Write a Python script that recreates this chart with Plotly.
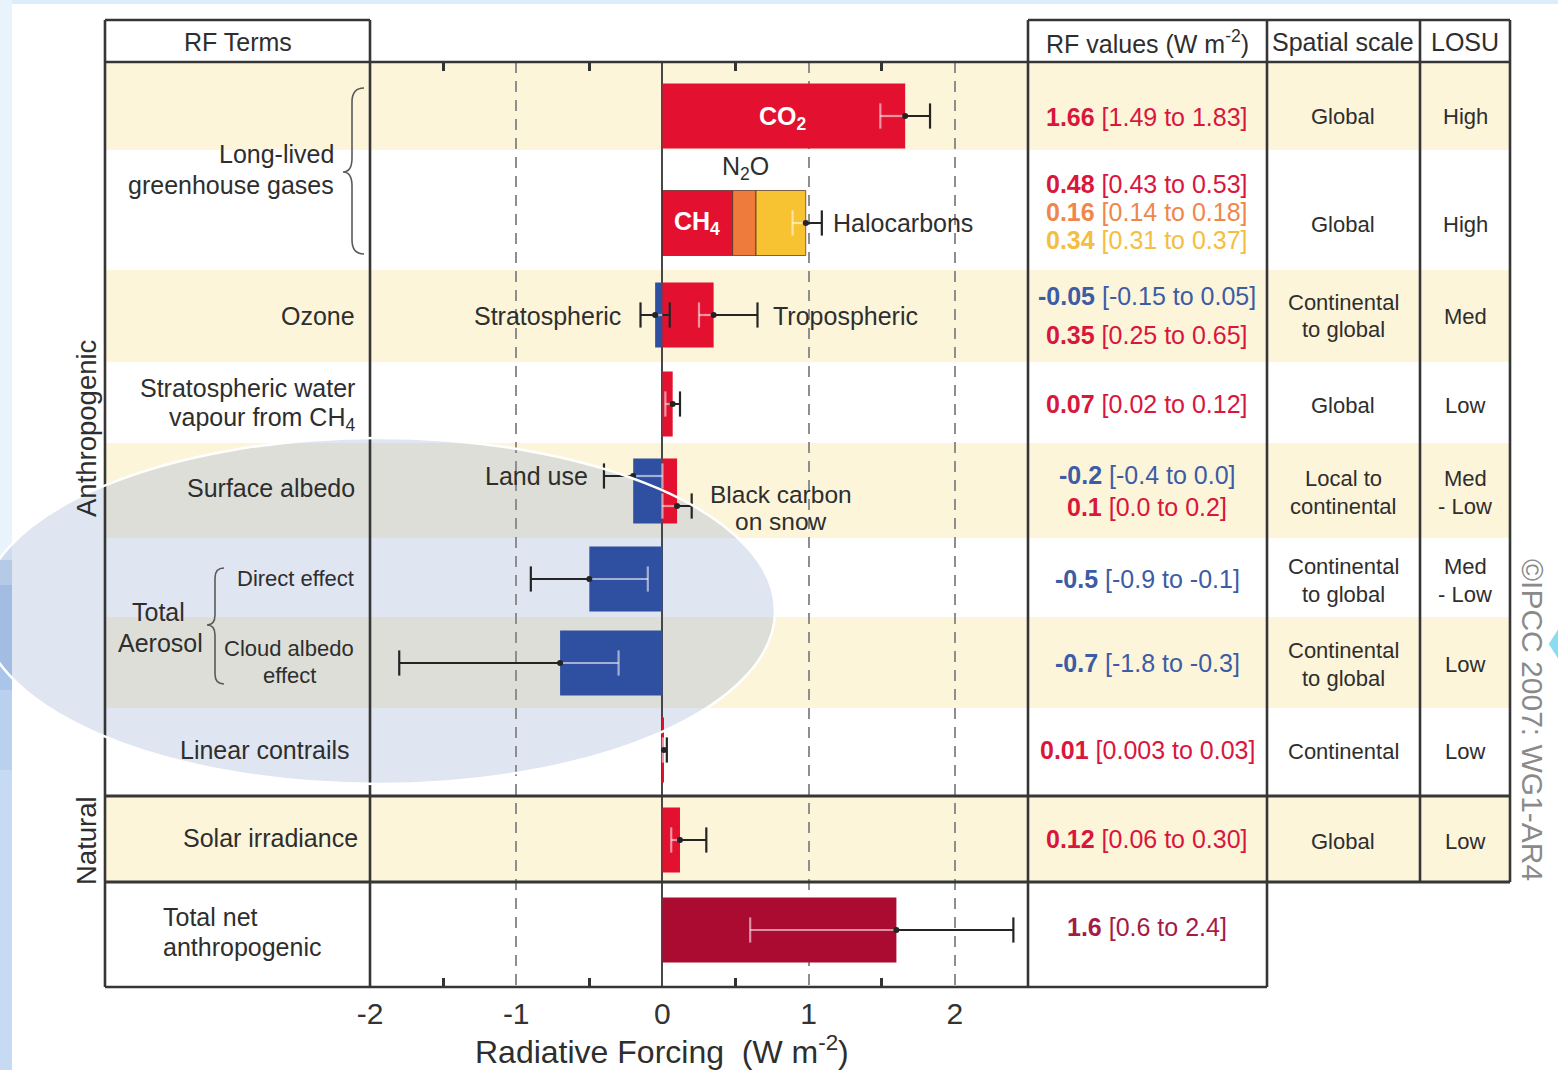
import plotly.graph_objects as go

W, H = 1558, 1070
FONT = "Liberation Sans, Arial, sans-serif"
TXT = "#2e2e2e"

# ---------------- radiative forcing terms (W m-2) ----------------
terms = ["CO2", "CH4", "N2O", "Halocarbons", "Stratospheric ozone", "Tropospheric ozone",
         "Stratospheric water vapour", "Land use", "Black carbon on snow",
         "Aerosol direct effect", "Cloud albedo effect", "Linear contrails",
         "Solar irradiance", "Total net anthropogenic"]
rf_best = ["1.66", "0.48", "0.16", "0.34", "-0.05", "0.35", "0.07", "-0.2", "0.1",
           "-0.5", "-0.7", "0.01", "0.12", "1.6"]
rf_low = ["1.49", "0.43", "0.14", "0.31", "-0.15", "0.25", "0.02", "-0.4", "0.0",
          "-0.9", "-1.8", "0.003", "0.06", "0.6"]
rf_high = ["1.83", "0.53", "0.18", "0.37", "0.05", "0.65", "0.12", "0.0", "0.2",
           "-0.1", "-0.3", "0.03", "0.30", "2.4"]
# combined uncertainty of the CH4 + N2O + halocarbon stack
llghg_low, llghg_high = 0.89, 1.09

spatial_scale = [["Global"], ["Global"], ["Continental", "to global"], ["Global"],
                 ["Local to", "continental"], ["Continental", "to global"],
                 ["Continental", "to global"], ["Continental"], ["Global"]]
losu = [["High"], ["High"], ["Med"], ["Low"], ["Med", "- Low"], ["Med", "- Low"],
        ["Low"], ["Low"], ["Low"]]

axis_tick_vals = [-2, -1, 0, 1, 2]
axis_tick_text = ["-2", "-1", "0", "1", "2"]
axis_minor_ticks = [-1.5, -0.5, 0.5, 1.5]
X_RANGE = [-2, 2.5]

# ---------------- layout of the table (pixel positions) ----------------
ROW_EDGES = [62, 150, 270, 362, 443, 538, 617, 708, 796, 882, 987]
ROW_CREAM = [True, False, True, False, True, False, True, False, True, False]
ROW_Y = [116, 223, 315, 404, 491, 579, 663, 750, 840, 930]
term_row = [0, 1, 1, 1, 2, 2, 3, 4, 4, 5, 6, 7, 8, 9]
err_offset = [0, 0, 0, 0, 0, 0, 0, -15, 15, 0, 0, 0, 0, 0]
value_text_y = [117, 184, 212, 240, 296, 335, 404, 475, 507, 579, 663, 750, 839, 927]
BAR_W = 65

RED, BLUE, ORANGE, YELLOW, DARKRED = "#e3112f", "#2f50a0", "#ee7b3b", "#f8c333", "#ab0a31"
bar_color = [RED, RED, ORANGE, YELLOW, BLUE, RED, RED, BLUE, RED, BLUE, BLUE, RED, RED, DARKRED]
val_color = ["#d9163c", "#d9163c", "#ef874c", "#f4be40", "#3c5ca6", "#d9163c", "#d9163c",
             "#3c5ca6", "#d9163c", "#3c5ca6", "#3c5ca6", "#d9163c", "#d9163c", "#a51b46"]

best = [float(v) for v in rf_best]
low = [float(v) for v in rf_low]
high = [float(v) for v in rf_high]


def X(p):
    return p / W


def Y(p):
    return 1 - p / H


# bar bases: CH4, N2O and halocarbons are stacked
bases = [0.0] * len(terms)
bases[2] = best[1]
bases[3] = best[1] + best[2]
edge_w = [0, 0.8, 0.8, 0.8, 0, 0, 0, 0, 0, 0, 0, 0, 0, 0]
bar_y = [ROW_Y[r] for r in term_row]

fig = go.Figure()
fig.add_trace(go.Bar(
    orientation="h", y=bar_y, x=best, base=bases, width=BAR_W,
    marker=dict(color=bar_color, line=dict(color="rgba(70,35,30,0.85)", width=edge_w)),
    hoverinfo="skip", showlegend=False))

# ---------------- error bars ----------------
dark_x, dark_y, light_x, light_y = [], [], [], []
dcap_x, dcap_y, lcap_x, lcap_y, dot_x, dot_y = [], [], [], [], [], []


def errbar(y, val, lo, hi, blo, bhi):
    ilo, ihi = max(lo, blo), min(hi, bhi)
    if ihi > ilo:
        light_x.extend([ilo, ihi, None]); light_y.extend([y, y, None])
    if lo < blo:
        dark_x.extend([lo, min(hi, blo), None]); dark_y.extend([y, y, None])
    if hi > bhi:
        dark_x.extend([max(lo, bhi), hi, None]); dark_y.extend([y, y, None])
    for e in (lo, hi):
        if blo - 1e-9 <= e <= bhi + 1e-9:
            lcap_x.append(e); lcap_y.append(y)
        else:
            dcap_x.append(e); dcap_y.append(y)
    dot_x.append(val); dot_y.append(y)


for i in range(len(terms)):
    if i in (1, 2, 3):
        continue
    b0, b1 = sorted([bases[i], bases[i] + best[i]])
    errbar(bar_y[i] + err_offset[i], best[i], low[i], high[i], b0, b1)
stack_total = best[1] + best[2] + best[3]
errbar(ROW_Y[1], stack_total, llghg_low, llghg_high, 0.0, stack_total)

DARK = "#242424"
LIGHT = "rgba(255,255,255,0.55)"
fig.add_trace(go.Scatter(x=light_x, y=light_y, mode="lines", line=dict(color=LIGHT, width=2.2),
                         hoverinfo="skip", showlegend=False))
fig.add_trace(go.Scatter(x=dark_x, y=dark_y, mode="lines", line=dict(color=DARK, width=2),
                         hoverinfo="skip", showlegend=False))
fig.add_trace(go.Scatter(x=lcap_x, y=lcap_y, mode="markers",
                         marker=dict(symbol="line-ns", size=18, line=dict(color=LIGHT, width=2.2)),
                         hoverinfo="skip", showlegend=False))
fig.add_trace(go.Scatter(x=dcap_x, y=dcap_y, mode="markers",
                         marker=dict(symbol="line-ns", size=18, line=dict(color=DARK, width=2.2)),
                         hoverinfo="skip", showlegend=False))
fig.add_trace(go.Scatter(x=dot_x, y=dot_y, mode="markers", marker=dict(color=DARK, size=6),
                         hoverinfo="skip", showlegend=False))
# carrier for the top axis ticks
fig.add_trace(go.Scatter(x=[0], y=[500], xaxis="x2", mode="markers", marker=dict(opacity=0),
                         hoverinfo="skip", showlegend=False))

# ---------------- shapes ----------------
shapes = []


def rect(x0, y0, x1, y1, fill, layer="below"):
    shapes.append(dict(type="rect", xref="paper", yref="paper", x0=X(x0), x1=X(x1),
                       y0=Y(y1), y1=Y(y0), fillcolor=fill, line=dict(width=0), layer=layer))


def seg(x0, y0, x1, y1, color="#363636", width=2.6):
    shapes.append(dict(type="line", xref="paper", yref="paper", x0=X(x0), x1=X(x1),
                       y0=Y(y0), y1=Y(y1), line=dict(color=color, width=width), layer="above"))


def path(d, fill=None, color="#5a5a5a", width=1.6, layer="above"):
    shapes.append(dict(type="path", xref="paper", yref="paper", path=d,
                       fillcolor=fill if fill else "rgba(0,0,0,0)",
                       line=dict(color=color, width=width), layer=layer))


# slide background
rect(0, 0, 12, 560, "#e8f3fc")
rect(0, 560, 12, 585, "#c3d8f1")
rect(0, 585, 12, 690, "#a9c5e9")
rect(0, 690, 12, 770, "#b9d0ee")
rect(0, 770, 12, 1070, "#c6daf3")
rect(12, 0, W, 4, "#dcedf9")
rect(12, 4, W, H, "#ffffff")

# alternating row shading
for k, cream in enumerate(ROW_CREAM):
    if cream:
        rect(105, ROW_EDGES[k], 1510, ROW_EDGES[k + 1], "#fcf5da")

# highlight ellipse (fill under the marks)
shapes.append(dict(type="circle", xref="paper", yref="paper", x0=X(-19), x1=X(775),
                   y0=Y(784), y1=Y(438), fillcolor="rgba(148,168,210,0.30)",
                   line=dict(width=0), layer="below"))

# table frame
for xv, y_end in [(105, 987), (370, 987), (1028, 987), (1267, 987), (1420, 882), (1510, 882)]:
    seg(xv, 20, xv, y_end)
seg(105, 20, 370, 20)
seg(1028, 20, 1510, 20)
seg(105, 62, 1510, 62)
seg(105, 796, 1510, 796, width=3)
seg(105, 882, 1510, 882, width=3)
seg(105, 987, 1267, 987)


def brace(xb, xt, w, y0, ym, y1, r):
    return (f"M{X(xb + w)},{Y(y0)} Q{X(xb)},{Y(y0)} {X(xb)},{Y(y0 + r)} "
            f"L{X(xb)},{Y(ym - r)} Q{X(xb)},{Y(ym)} {X(xt)},{Y(ym)} "
            f"Q{X(xb)},{Y(ym)} {X(xb)},{Y(ym + r)} L{X(xb)},{Y(y1 - r)} "
            f"Q{X(xb)},{Y(y1)} {X(xb + w)},{Y(y1)}")


path(brace(352, 343, 12, 88, 172, 254, 14))
path(brace(215, 207, 9, 568, 625, 684, 10))

# ellipse outline on top
shapes.append(dict(type="circle", xref="paper", yref="paper", x0=X(-19), x1=X(775),
                   y0=Y(784), y1=Y(438), fillcolor="rgba(0,0,0,0)",
                   line=dict(color="#ffffff", width=2.5), layer="above"))
# small slide ornament at the right edge
path(f"M{X(1558)},{Y(630)} L{X(1549)},{Y(644)} L{X(1558)},{Y(658)} Z",
     fill="#8adcf0", color="#8adcf0", width=0.5)

# ---------------- text ----------------
annos = []


def text(x, y, s, size=25, color=TXT, anchor="center", angle=0):
    annos.append(dict(x=X(x), y=Y(y), xref="paper", yref="paper", text=s, showarrow=False,
                      xanchor=anchor, yanchor="middle", textangle=angle,
                      font=dict(size=size, color=color, family=FONT)))


def lines(x, y_mid, parts, gap, **kw):
    n = len(parts)
    for j, s in enumerate(parts):
        text(x, y_mid + (j - (n - 1) / 2) * gap, s, **kw)


# headers
text(238, 42, "RF Terms")
text(1147, 42, "RF values (W m<sup>-2</sup>)")
text(1343, 42, "Spatial scale")
text(1465, 42, "LOSU")

# term labels
text(336, 154, "Long-lived", anchor="right")
text(336, 185, "greenhouse gases", anchor="right")
text(357, 316, "Ozone", anchor="right")
text(357, 388, "Stratospheric water", anchor="right")
text(357, 419, "vapour from CH<sub>4</sub>", anchor="right")
text(357, 488, "Surface albedo", anchor="right")
text(158, 612, "Total")
text(160, 643, "Aerosol")
text(356, 578, "Direct effect", size=22, anchor="right")
text(289, 649, "Cloud albedo", size=22)
text(289, 675, "effect", size=22)
text(352, 750, "Linear contrails", anchor="right")
text(360, 838, "Solar irradiance", anchor="right")
text(161, 917, "Total net", anchor="left")
text(161, 947, "anthropogenic", anchor="left")
text(86, 428, "Anthropogenic", size=27.5, angle=-90)
text(86, 841, "Natural", size=27.5, angle=-90)

# labels in the bar area
text(783, 118, "<b>CO<sub>2</sub></b>", color="#ffffff")
text(697, 223, "<b>CH<sub>4</sub></b>", color="#ffffff")
text(745, 168, "N<sub>2</sub>O")
text(831, 223, "Halocarbons", anchor="left")
text(623, 316, "Stratospheric", anchor="right")
text(771, 316, "Tropospheric", anchor="left")
text(590, 476, "Land use", anchor="right")
text(781, 494, "Black carbon", size=24.5)
text(781, 521, "on snow", size=24.5)

# RF values column
for i in range(len(terms)):
    text(1147, value_text_y[i], f"<b>{rf_best[i]}</b> [{rf_low[i]} to {rf_high[i]}]",
         size=25, color=val_color[i])

# spatial scale and LOSU columns
for k in range(len(spatial_scale)):
    lines(1343, ROW_Y[k] + 1, spatial_scale[k], 28, size=22)
    lines(1465, ROW_Y[k] + 1, losu[k], 28, size=22)

# axis title and credit
text(662, 1050, "Radiative Forcing  (W m<sup>-2</sup>)", size=32)
text(1533, 720, "©IPCC 2007: WG1-AR4", size=30, color="#8a8a8a", angle=90)

fig.update_layout(
    width=W, height=H, margin=dict(l=0, r=0, t=0, b=0, pad=0, autoexpand=False),
    paper_bgcolor="#e3f0fa", plot_bgcolor="rgba(0,0,0,0)",
    barmode="overlay", showlegend=False, font=dict(family=FONT, color=TXT),
    xaxis=dict(domain=[X(370), X(1028)], range=X_RANGE, anchor="y", automargin=False,
               tickmode="array", tickvals=axis_tick_vals, ticktext=axis_tick_text,
               ticks="", showline=False, showgrid=True, gridcolor="#8e8e8e",
               griddash="11px,8px", gridwidth=1.5, zeroline=True, zerolinecolor="#474747",
               zerolinewidth=1.6, tickfont=dict(size=30, color="#333333", family=FONT),
               ticklabelstandoff=6,
               minor=dict(tickmode="array", tickvals=axis_minor_ticks, ticks="inside",
                          ticklen=9, tickwidth=2.6, tickcolor="#333333", showgrid=False),
               fixedrange=True),
    xaxis2=dict(domain=[X(370), X(1028)], range=X_RANGE, overlaying="x", side="top",
                anchor="y", automargin=False, showticklabels=False, showgrid=False,
                zeroline=False, ticks="", showline=False,
                minor=dict(tickmode="array", tickvals=axis_minor_ticks, ticks="inside",
                           ticklen=9, tickwidth=2.6, tickcolor="#333333", showgrid=False),
                fixedrange=True),
    yaxis=dict(domain=[Y(987), Y(62)], range=[987, 62], visible=False, fixedrange=True,
               automargin=False),
    shapes=shapes, annotations=annos,
)

fig.write_html("out.html")
